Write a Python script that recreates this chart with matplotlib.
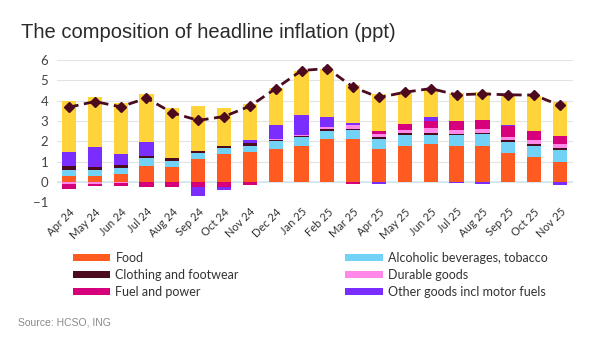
import numpy as np
import matplotlib
matplotlib.use("Agg")
import matplotlib.pyplot as plt
from matplotlib.patches import Patch

# ═══ data (ppt contributions) ═══
months = ["Apr 24", "May 24", "Jun 24", "Jul 24", "Aug 24", "Sep 24", "Oct 24",
          "Nov 24", "Dec 24", "Jan 25", "Feb 25", "Mar 25", "Apr 25", "May 25",
          "Jun 25", "Jul 25", "Aug 25", "Sep 25", "Oct 25", "Nov 25"]
food = [0.31, 0.30, 0.36, 0.80, 0.71, 1.12, 1.35, 1.46, 1.60, 1.79,
        2.12, 2.09, 1.64, 1.76, 1.84, 1.78, 1.78, 1.41, 1.22, 0.97]
alcohol = [0.26, 0.27, 0.33, 0.36, 0.30, 0.31, 0.31, 0.33, 0.39, 0.41,
           0.38, 0.46, 0.48, 0.54, 0.48, 0.51, 0.59, 0.54, 0.54, 0.62]
clothing = [0.20, 0.17, 0.15, 0.13, 0.15, 0.08, 0.12, 0.10, 0.07, 0.05,
            0.08, 0.07, 0.07, 0.11, 0.10, 0.07, 0.05, 0.10, 0.08, 0.08]
durable = [-0.10, -0.10, -0.08, 0.00, 0.00, 0.00, 0.00, 0.00, 0.07, 0.04,
           0.13, 0.18, 0.15, 0.16, 0.21, 0.18, 0.20, 0.18, 0.21, 0.20]
fuel = [-0.25, -0.13, -0.13, -0.25, -0.25, -0.26, -0.26, -0.14, 0.00, 0.00,
        0.00, -0.12, 0.16, 0.30, 0.36, 0.46, 0.44, 0.51, 0.44, 0.38]
other = [0.72, 0.97, 0.53, 0.69, 0.00, -0.44, -0.16, 0.16, 0.69, 0.99,
         0.51, 0.10, -0.11, 0.00, 0.20, -0.08, -0.13, 0.07, 0.00, -0.16]
services = [2.48, 2.48, 2.53, 2.37, 2.50, 2.24, 1.88, 1.80, 1.79, 2.17,
            2.37, 1.87, 1.81, 1.51, 1.37, 1.37, 1.38, 1.50, 1.73, 1.69]
headline = [3.68, 3.96, 3.70, 4.13, 3.40, 3.03, 3.22, 3.73, 4.60, 5.49,
            5.59, 4.67, 4.16, 4.42, 4.60, 4.29, 4.34, 4.29, 4.28, 3.77]

# ═══ colours ═══
COLORS = {
    "Food": "#ff5a1f",
    "Alcoholic beverages, tobacco": "#72d2f6",
    "Clothing and footwear": "#4b0a1e",
    "Durable goods": "#ff88e8",
    "Fuel and power": "#d6007d",
    "Other goods incl motor fuels": "#7b2cff",
    "Services": "#ffd43b",
}
LINE_COLOR = "#4b0a1e"

series = [("Food", food), ("Alcoholic beverages, tobacco", alcohol),
          ("Clothing and footwear", clothing), ("Durable goods", durable),
          ("Fuel and power", fuel), ("Other goods incl motor fuels", other),
          ("Services", services)]

plt.rcParams["font.family"] = ["Lato", "DejaVu Sans"]

fig = plt.figure(figsize=(5.98, 3.52), dpi=100, facecolor="white")
ax = fig.add_axes([0.095, 0.426, 0.863, 0.403])

x = np.arange(len(months))
pos_base = np.zeros(len(months))
neg_base = np.zeros(len(months))
for name, vals in series:
    v = np.array(vals)
    p = np.where(v > 0, v, 0)
    n = np.where(v < 0, v, 0)
    ax.bar(x, p, 0.55, bottom=pos_base, color=COLORS[name], zorder=3)
    ax.bar(x, n, 0.55, bottom=neg_base, color=COLORS[name], zorder=3)
    pos_base += p
    neg_base += n

ax.plot(x, headline, color=LINE_COLOR, lw=2, ls=(0, (3.5, 2)), marker="D",
        ms=5, zorder=4)

ax.set_xlim(-0.47, 19.5)
ax.set_ylim(-1, 6)
ax.set_yticks(range(-1, 7))
ax.yaxis.grid(True, color="#e3e3e3", lw=0.8, zorder=0)
ax.axhline(0, color="#cde9f4", lw=1.2, zorder=2)
for s in ax.spines.values():
    s.set_visible(False)
ax.tick_params(axis="y", length=0, labelsize=9.5, colors="#444444", pad=6)
ax.set_xticks(x)
ax.set_xticklabels(months, rotation=45, ha="right", rotation_mode="anchor",
                   fontsize=8, color="#333333")
ax.tick_params(axis="x", length=0, pad=3)

fig.text(0.035, 0.892, "The composition of headline inflation (ppt)",
         fontsize=14.5, family="Liberation Sans", color="#2a2a2a", va="baseline")

def make_legend(names, x0):
    handles = [Patch(facecolor=COLORS[n], edgecolor="none", label=n) for n in names]
    leg = fig.legend(handles=handles, loc="upper left", bbox_to_anchor=(x0, 0.285),
                     frameon=False, fontsize=9, handlelength=3.0, handleheight=0.45,
                     handletextpad=0.4, labelspacing=0.42, borderaxespad=0,
                     borderpad=0)
    for t in leg.get_texts():
        t.set_color("#333333")
    return leg

make_legend(["Food", "Clothing and footwear", "Fuel and power"], 0.122)
make_legend(["Alcoholic beverages, tobacco", "Durable goods",
             "Other goods incl motor fuels"], 0.577)

fig.text(0.03, 0.075, "Source: HCSO, ING", fontsize=7.5,
         family="Liberation Sans", color="#8a8a8a")

fig.savefig("out.png", dpi=100, facecolor="white")
